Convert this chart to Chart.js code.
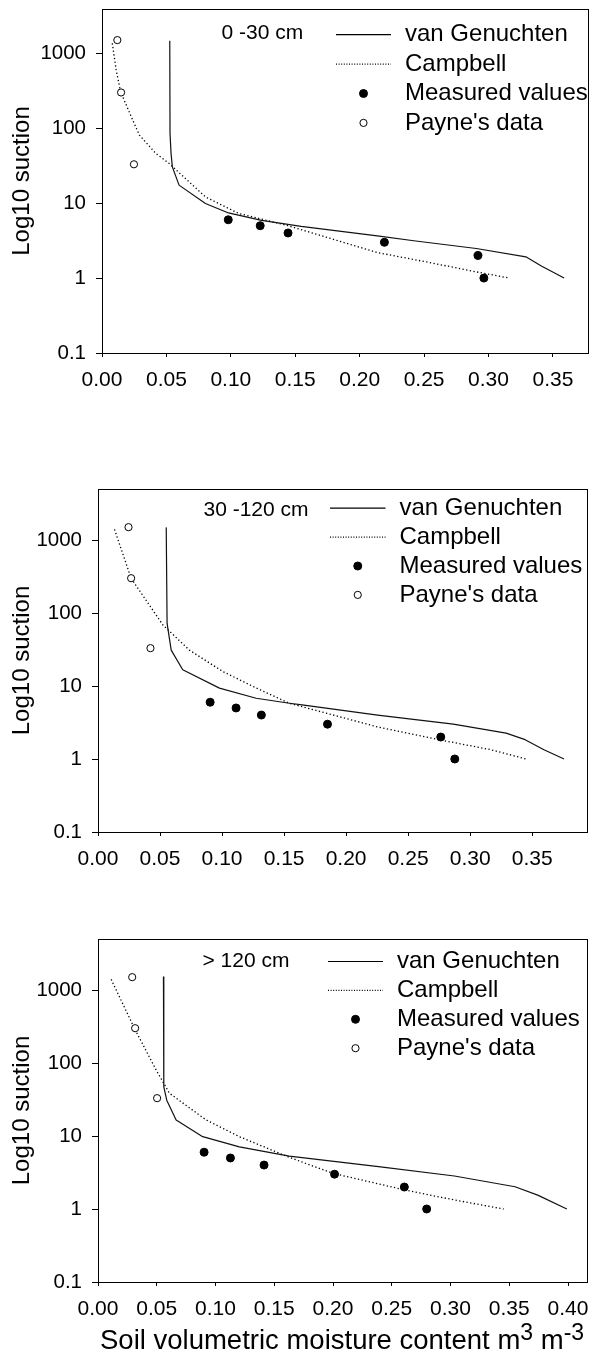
<!DOCTYPE html>
<html>
<head>
<meta charset="utf-8">
<script src="https://cdn.jsdelivr.net/npm/chart.js@4/dist/chart.umd.min.js"></script>
<style>
  body { margin: 0; background: #fff; width: 594px; height: 1365px; position: relative; overflow: hidden;
         font-family: "Liberation Sans", Arial, sans-serif; }
  .panel { position: absolute; left: 0; }
  #xtitle { position: absolute; left: 100px; top: 1326px; font-size: 27.5px; line-height: 28px; white-space: nowrap; color: #000; }
  #xtitle sup { font-size: 23px; vertical-align: 9px; line-height: 0; }
</style>
</head>
<body>
<canvas id="c1" class="panel" width="594" height="440" style="top:0px"></canvas>
<canvas id="c2" class="panel" width="594" height="460" style="top:440px"></canvas>
<canvas id="c3" class="panel" width="594" height="465" style="top:900px"></canvas>
<div id="xtitle">Soil volumetric moisture content m<sup>3</sup> m<sup>-3</sup></div>
<script>
// ---- data ----
const seriesNames = ['van Genuchten', 'Campbell', 'Measured values', "Payne's data"]
const depthLabels = ['0 -30 cm', '30 -120 cm', '> 120 cm']
const yTicks = [0.1, 1, 10, 100, 1000]
const xTicks12 = [0, 0.05, 0.10, 0.15, 0.20, 0.25, 0.30, 0.35]
const xTicks3 = [0, 0.05, 0.10, 0.15, 0.20, 0.25, 0.30, 0.35, 0.40]
const xMax = [0.378, 0.395, 0.417]
const yMax = [3900, 5000, 5000]

// 0 - 30 cm
const p1VgX = [0.0526, 0.0528, 0.0536, 0.0546, 0.0598, 0.0803, 0.0982, 0.1238, 0.1546, 0.2012, 0.2137, 0.2420, 0.2905, 0.3290, 0.3410, 0.3587]
const p1VgY = [1470, 85, 46, 30.5, 17.4, 9.9, 7.4, 5.9, 4.9, 3.9, 3.66, 3.15, 2.48, 1.92, 1.45, 1.0]
const p1CbX = [0.0080, 0.0110, 0.0144, 0.0238, 0.0290, 0.0418, 0.0520, 0.0803, 0.1060, 0.1444, 0.2137, 0.2520, 0.2905, 0.3162]
const p1CbY = [1360, 600, 307, 129, 81, 46, 34, 12.1, 7.3, 5.0, 2.19, 1.64, 1.21, 1.0]
const p1MeasX = [0.098, 0.1228, 0.1444, 0.2192, 0.2918, 0.2964]
const p1MeasY = [6, 5, 4, 3, 2, 1]
const p1PayneX = [0.0119, 0.0148, 0.0248]
const p1PayneY = [1500, 300, 33]

// 30 - 120 cm
const p2VgX = [0.0550, 0.0557, 0.0590, 0.0683, 0.0979, 0.1275, 0.1543, 0.1645, 0.2254, 0.2864, 0.3290, 0.3443, 0.3595, 0.3757]
const p2VgY = [1490, 72, 31, 16.7, 9.35, 6.8, 5.8, 5.5, 4.0, 3.0, 2.26, 1.84, 1.34, 1.0]
const p2CbX = [0.0133, 0.0267, 0.0522, 0.0737, 0.1006, 0.1275, 0.1543, 0.2254, 0.2740, 0.3168, 0.3450]
const p2CbY = [1400, 299, 69, 31, 15.8, 9.4, 5.8, 2.75, 1.85, 1.34, 1.0]
const p2MeasX = [0.0904, 0.1113, 0.1317, 0.1850, 0.2763, 0.2876]
const p2MeasY = [6, 5, 4, 3, 2, 1]
const p2PayneX = [0.0246, 0.0267, 0.0423]
const p2PayneY = [1500, 300, 33]

// > 120 cm
const p3VgX = [0.0557, 0.0560, 0.0585, 0.0665, 0.0891, 0.1203, 0.1628, 0.2387, 0.3033, 0.3549, 0.3742, 0.3990]
const p3VgY = [1520, 47, 31, 16.6, 9.8, 7.1, 5.3, 3.8, 2.83, 2.02, 1.55, 1.0]
const p3CbX = [0.0112, 0.0310, 0.0495, 0.0608, 0.0920, 0.1203, 0.1628, 0.2000, 0.2614, 0.3033, 0.3452]
const p3CbY = [1400, 299, 80, 38.5, 16.6, 9.8, 5.1, 3.08, 1.82, 1.33, 1.0]
const p3MeasX = [0.0903, 0.1127, 0.1413, 0.2013, 0.2607, 0.2797]
const p3MeasY = [6, 5, 4, 3, 2, 1]
const p3PayneX = [0.0291, 0.0316, 0.0503]
const p3PayneY = [1500, 300, 33]

const FONT = "'Liberation Sans', Arial, sans-serif"
Chart.defaults.font.family = FONT
Chart.defaults.color = '#000'

const pts = (xs, ys) => xs.map((x, i) => ({x: x, y: ys[i]}))

// frame round the plot + the inset legend
const framePlugin = {
    id: 'frame',
    afterDraw(chart, args, opts) {
        const ctx = chart.ctx
        const a = chart.chartArea
        ctx.save()
        ctx.strokeStyle = '#000'
        ctx.lineWidth = 1
        ctx.strokeRect(Math.round(a.left) + 0.5, Math.round(a.top) + 0.5,
                       Math.round(a.right - a.left) - 1, Math.round(a.bottom - a.top))

        const L = opts.leg
        ctx.fillStyle = '#000'
        ctx.textBaseline = 'middle'
        ctx.textAlign = 'left'
        ctx.font = '21px ' + FONT
        ctx.fillText(opts.depth, a.left + L.depthX, a.top + L.depthY)

        ctx.font = '24px ' + FONT
        const order = [2, 3, 0, 1] // dataset index for van G, Campbell, measured, Payne
        for (let i = 0; i < 4; i++) {
            const ds = chart.data.datasets[order[i]]
            const y = a.top + L.rowY + i * L.rowGap
            if (ds.showLine) {
                ctx.beginPath()
                ctx.setLineDash(i === 1 ? [1, 1.6] : [])
                ctx.lineWidth = 1.2
                ctx.strokeStyle = '#000'
                ctx.moveTo(a.left + L.lineX0, y)
                ctx.lineTo(a.left + L.lineX1, y)
                ctx.stroke()
                ctx.setLineDash([])
            } else {
                const cx = a.left + (L.lineX0 + L.lineX1) / 2
                ctx.beginPath()
                ctx.arc(cx, y, ds.pointRadius, 0, Math.PI * 2)
                ctx.fillStyle = ds.backgroundColor
                ctx.fill()
                ctx.lineWidth = ds.borderWidth
                ctx.strokeStyle = '#000'
                ctx.stroke()
                ctx.fillStyle = '#000'
            }
            ctx.fillText(seriesNames[i], a.left + L.textX, y)
        }
        ctx.restore()
    }
}

function makePanel(id, g, series, xt, xmax, ymax, depth, leg) {
    const ctx = document.getElementById(id).getContext('2d')
    return new Chart(ctx, {
        type: 'scatter',
        data: {
            datasets: [
                { label: seriesNames[2], data: pts(series.measX, series.measY), pointRadius: 4,
                  backgroundColor: '#000', borderColor: '#000', borderWidth: 1, showLine: false },
                { label: seriesNames[3], data: pts(series.payneX, series.payneY), pointRadius: 3.6,
                  backgroundColor: '#fff', borderColor: '#000', borderWidth: 1, showLine: false },
                { label: seriesNames[0], data: pts(series.vgX, series.vgY), showLine: true, pointRadius: 0,
                  borderColor: '#111', borderWidth: 1.2, tension: 0, borderJoinStyle: 'round' },
                { label: seriesNames[1], data: pts(series.cbX, series.cbY), showLine: true, pointRadius: 0,
                  borderColor: '#000', borderWidth: 1.3, borderDash: [1.3, 2.4], tension: 0 }
            ]
        },
        options: {
            responsive: false,
            animation: false,
            events: [],
            layout: { padding: { left: 0, top: g.top, right: g.cw - g.right, bottom: g.ch - g.bottom - 40 } },
            plugins: { legend: { display: false }, tooltip: { enabled: false },
                       frame: { depth: depth, leg: leg } },
            scales: {
                x: {
                    type: 'linear', min: 0, max: xmax,
                    border: { display: false },
                    grid: { drawOnChartArea: false, tickLength: 4, color: '#000', lineWidth: 1 },
                    ticks: { font: { size: 21 }, padding: 11, maxRotation: 0, autoSkip: false,
                             callback: v => v.toFixed(2) },
                    afterBuildTicks: s => { s.ticks = xt.map(v => ({value: v})) },
                    afterFit: s => { s.height = 40; s.paddingLeft = 0; s.paddingRight = 0 }
                },
                y: {
                    type: 'logarithmic', min: 0.1, max: ymax,
                    border: { display: false },
                    grid: { drawOnChartArea: false, tickLength: 6, color: '#000', lineWidth: 1 },
                    ticks: { font: { size: 20.5 }, padding: 10, autoSkip: false,
                             callback: v => String(v) },
                    afterBuildTicks: s => { s.ticks = yTicks.map(v => ({value: v})) },
                    afterFit: s => { s.width = g.left; s.paddingTop = 0; s.paddingBottom = 0 },
                    title: { display: true, text: 'Log10 suction', font: { size: 24 },
                             padding: { top: 8, bottom: 0 } }
                }
            }
        },
        plugins: [framePlugin]
    })
}

makePanel('c1', { cw: 594, ch: 440, left: 102, right: 593, top: 9, bottom: 353 },
    { vgX: p1VgX, vgY: p1VgY, cbX: p1CbX, cbY: p1CbY, measX: p1MeasX, measY: p1MeasY, payneX: p1PayneX, payneY: p1PayneY },
    xTicks12, xMax[0], yMax[0], depthLabels[0],
    { depthX: 119.5, depthY: 24, lineX0: 234, lineX1: 289, textX: 303, rowY: 25.7, rowGap: 29.4 })

makePanel('c2', { cw: 594, ch: 460, left: 98, right: 588, top: 49, bottom: 392 },
    { vgX: p2VgX, vgY: p2VgY, cbX: p2CbX, cbY: p2CbY, measX: p2MeasX, measY: p2MeasY, payneX: p2PayneX, payneY: p2PayneY },
    xTicks12, xMax[1], yMax[1], depthLabels[1],
    { depthX: 105.5, depthY: 21, lineX0: 232, lineX1: 287.5, textX: 301.5, rowY: 19.2, rowGap: 28.9 })

makePanel('c3', { cw: 594, ch: 465, left: 98, right: 588, top: 39, bottom: 382 },
    { vgX: p3VgX, vgY: p3VgY, cbX: p3CbX, cbY: p3CbY, measX: p3MeasX, measY: p3MeasY, payneX: p3PayneX, payneY: p3PayneY },
    xTicks3, xMax[2], yMax[2], depthLabels[2],
    { depthX: 104.5, depthY: 22, lineX0: 230, lineX1: 285, textX: 299, rowY: 22.5, rowGap: 28.9 })
</script>
</body>
</html>
